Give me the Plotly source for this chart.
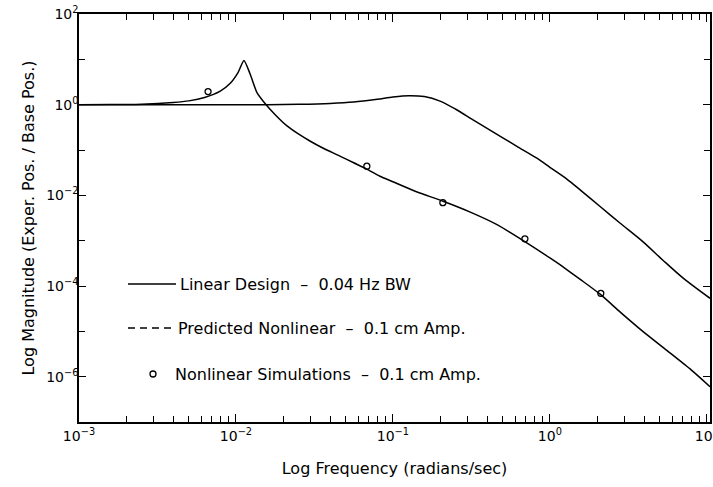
import plotly.graph_objects as go

# Linear design curve (log10 frequency, log10 magnitude)
lin_logw = [-3.0, -2.5, -2.0, -1.8, -1.6, -1.4, -1.25, -1.1, -1.0, -0.9, -0.8, -0.7, -0.6, -0.5, -0.4, -0.3, -0.2, -0.083, 0.0, 0.108, 0.2, 0.318, 0.45, 0.592, 0.72, 0.847, 1.02]
lin_logm = [0.0, 0.0, 0.0, 0.0, 0.01, 0.03, 0.06, 0.12, 0.17, 0.2, 0.18, 0.08, -0.1, -0.31, -0.52, -0.73, -0.94, -1.18, -1.38, -1.64, -1.9, -2.24, -2.62, -3.02, -3.43, -3.82, -4.27]

# Predicted nonlinear curve
nl_logw = [-3.0, -2.8, -2.6, -2.4, -2.3, -2.2, -2.1, -2.038, -1.987, -1.949, -1.911, -1.866, -1.82, -1.75, -1.675, -1.6, -1.529, -1.45, -1.338, -1.25, -1.166, -1.083, -1.0, -0.85, -0.68, -0.5, -0.34, -0.16, 0.0, 0.064, 0.2, 0.32, 0.45, 0.592, 0.745, 0.9, 1.02]
nl_logm = [0.0, 0.003, 0.012, 0.05, 0.085, 0.16, 0.3, 0.467, 0.71, 0.978, 0.689, 0.267, 0.05, -0.22, -0.467, -0.65, -0.8, -0.95, -1.133, -1.28, -1.42, -1.578, -1.7, -1.92, -2.13, -2.38, -2.64, -3.02, -3.38, -3.53, -3.87, -4.18, -4.58, -5.0, -5.42, -5.85, -6.22]

# Nonlinear simulation points
sim_w = [0.00664, 0.0682, 0.208, 0.693, 2.11]
sim_m = [1.95, 0.044, 0.0069, 0.0011, 6.9e-5]

legend_labels = ["Linear Design  \u2013  0.04 Hz BW",
                 "Predicted Nonlinear  \u2013  0.1 cm Amp.",
                 "Nonlinear Simulations  \u2013  0.1 cm Amp."]

x_tickvals = [1e-3, 1e-2, 1e-1, 1e0, 1e1]
x_ticktext = ["10<sup>\u22123</sup>", "10<sup>\u22122</sup>", "10<sup>\u22121</sup>", "10<sup>0</sup>", "10<sup>1</sup>"]
y_tickvals = [1e-6, 1e-4, 1e-2, 1e0, 1e2]
y_ticktext = ["10<sup>\u22126</sup>", "10<sup>\u22124</sup>", "10<sup>\u22122</sup>", "10<sup>0</sup>", "10<sup>2</sup>"]

FONT = "DejaVu Sans"
W, H = 713, 487
L, R, T, B = 79, 3, 14, 65
pw, ph = W - L - R, H - T - B

def px(x):
    return (x - L) / pw

def py(y):
    return (H - B - y) / ph

fig = go.Figure()
fig.add_trace(go.Scatter(x=[10 ** v for v in lin_logw], y=[10 ** v for v in lin_logm],
                         mode="lines", line=dict(color="black", width=1.5, shape="spline", smoothing=0.8),
                         showlegend=False))
fig.add_trace(go.Scatter(x=[10 ** v for v in nl_logw], y=[10 ** v for v in nl_logm],
                         mode="lines", line=dict(color="black", width=1.5, shape="spline", smoothing=0.6),
                         showlegend=False))
fig.add_trace(go.Scatter(x=sim_w, y=sim_m, mode="markers",
                         marker=dict(symbol="circle-open", size=6, color="black", line=dict(width=1.3)),
                         showlegend=False))

# legend drawn inside the plot
leg_y = [284, 328, 374]
fig.add_shape(type="line", xref="paper", yref="paper", x0=px(128), x1=px(176), y0=py(leg_y[0]), y1=py(leg_y[0]),
              line=dict(color="black", width=1.3))
fig.add_shape(type="line", xref="paper", yref="paper", x0=px(128), x1=px(176), y0=py(leg_y[1]), y1=py(leg_y[1]),
              line=dict(color="black", width=1.5, dash="7px,5px"))
fig.add_shape(type="circle", xref="paper", yref="paper", xsizemode="pixel", ysizemode="pixel",
              xanchor=px(153), yanchor=py(leg_y[2]), x0=-3, x1=3, y0=-3, y1=3,
              line=dict(color="black", width=1.3))
text_x = [178, 176, 173]
for lab, yy, xx in zip(legend_labels, leg_y, text_x):
    fig.add_annotation(text=lab, xref="paper", yref="paper", x=px(xx), y=py(yy),
                       xanchor="left", yanchor="middle", showarrow=False,
                       font=dict(family=FONT, size=16, color="black"))

axis_common = dict(type="log", showgrid=False, zeroline=False, showline=True, linecolor="black",
                   linewidth=1.5, mirror="ticks", ticks="inside", tickcolor="black", tickwidth=1.3,
                   tickfont=dict(family=FONT, size=14, color="black"), automargin=False,
                   ticklabeloverflow="allow")

fig.update_xaxes(**axis_common, range=[-3, 1.02], tickvals=x_tickvals, ticktext=x_ticktext, ticklen=8,
                 minor=dict(dtick="D1", ticks="inside", ticklen=6, tickcolor="black", tickwidth=1.2),
                 title=dict(text="Log Frequency (radians/sec)", font=dict(family=FONT, size=16, color="black"),
                            standoff=20))
fig.update_yaxes(**axis_common, range=[-7, 2.002], tickvals=y_tickvals, ticktext=y_ticktext, ticklen=7,
                 ticklabelstandoff=-4,
                 minor=dict(dtick=1, ticks="inside", ticklen=6, tickcolor="black", tickwidth=1.2),
                 title=dict(text="Log Magnitude (Exper. Pos. / Base Pos.)",
                            font=dict(family=FONT, size=16, color="black"), standoff=8))

fig.update_layout(width=W, height=H, margin=dict(l=L, r=R, t=T, b=B),
                  paper_bgcolor="white", plot_bgcolor="white", showlegend=False,
                  font=dict(family=FONT, color="black"))

fig.write_html("out.html", config={"displayModeBar": False},
               post_script="document.body.style.margin='0';document.body.style.overflow='hidden';")
